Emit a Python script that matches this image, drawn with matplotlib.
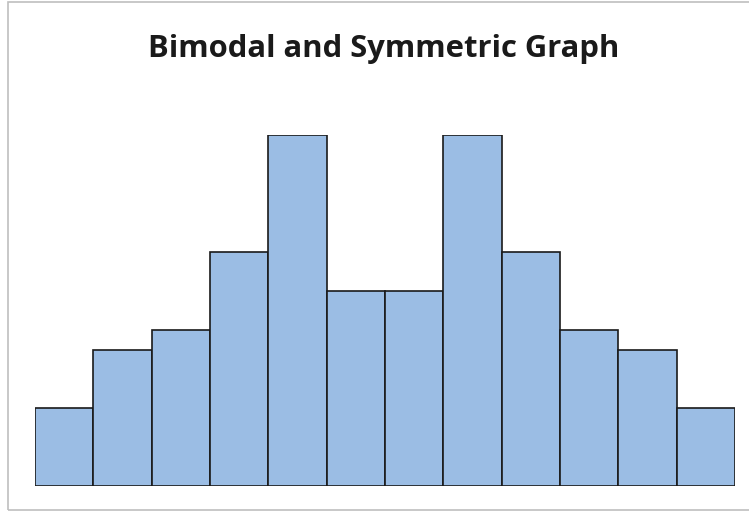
import matplotlib.pyplot as plt
from matplotlib.patches import Rectangle

# bin counts
bins = list(range(1, 13))
counts = [2, 3.5, 4, 6, 9, 5, 5, 9, 6, 4, 3.5, 2]

W, H = 749, 512
fig = plt.figure(figsize=(W / 100, H / 100), dpi=100)

# grey frame round the chart area (right edge falls outside the image)
fig.patches.append(Rectangle((8 / W, 2 / H), (W + 10) / W, (H - 4) / H,
                             transform=fig.transFigure, fill=False,
                             edgecolor="#bfbfbf", linewidth=1.2))

ax = fig.add_axes([35 / W, (H - 486) / H, 700 / W, (486 - 135) / H])
ax.bar(bins, counts, width=1.0, color="#9bbde4", edgecolor="#1a1a1a", linewidth=1.2)
ax.set_xlim(0.5, 12.5)
ax.set_ylim(0, 9)
ax.axis("off")

fig.text(384 / W, 1 - 49 / H, "Bimodal and Symmetric Graph", ha="center", va="center",
         fontsize=22.3, fontweight="bold", family=["Open Sans", "DejaVu Sans"], color="#1a1a1a")

fig.savefig("out.png", dpi=100)
